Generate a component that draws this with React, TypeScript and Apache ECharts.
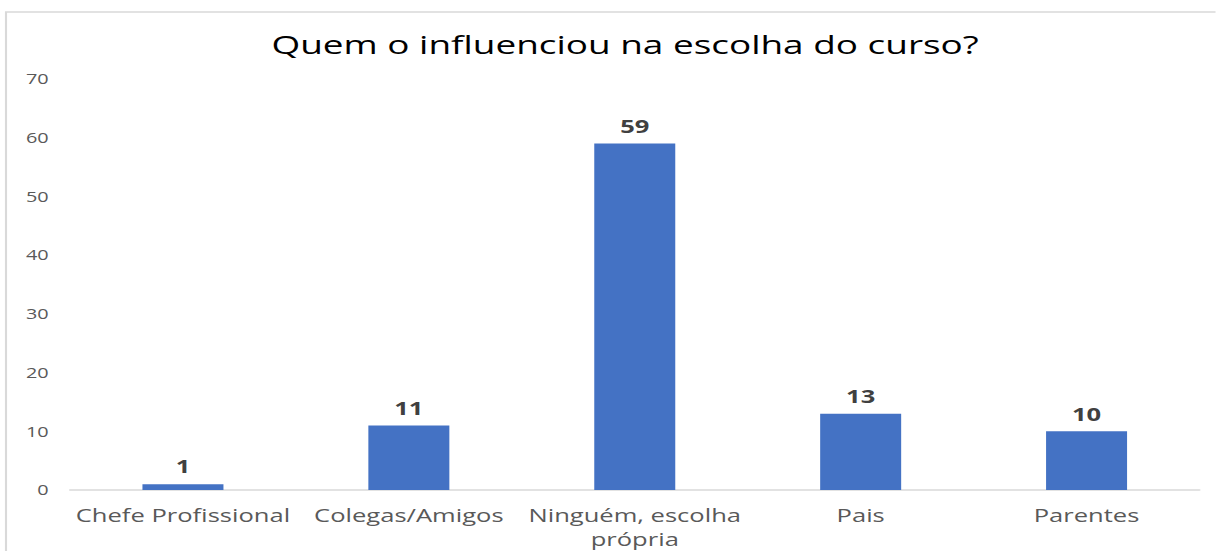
import React, { useEffect, useRef } from "react";
import * as echarts from "echarts";

const categories = ["Chefe Profissional", "Colegas/Amigos", "Ninguém, escolha\nprópria", "Pais", "Parentes"];
const values = [1, 11, 59, 13, 10];
const yTicks = { min: 0, max: 70, interval: 10 };
const titleText = "Quem o influenciou na escolha do curso?";

// the reference is a horizontally stretched picture; draw narrower and stretch the whole chart
const STRETCH = 1.42;
const W = 1216 / STRETCH;
const H = 551;

export default function App() {
  const ref = useRef<HTMLDivElement>(null);
  useEffect(() => {
    document.body.style.margin = "0";
    document.body.style.overflow = "hidden";
    const chart = echarts.init(ref.current!, null, { renderer: "svg" });
    chart.setOption({
      animation: false,
      backgroundColor: "#ffffff",
      title: {
        text: titleText,
        left: 618 / STRETCH,
        textAlign: "center",
        top: 26,
        textStyle: { fontFamily: "Open Sans", fontSize: 26, fontWeight: "normal", color: "#000000" },
      },
      graphic: [
        {
          type: "rect",
          shape: { x: 6 / STRETCH, y: 12, width: 1000, height: 700 },
          style: { fill: "none", stroke: "#d9d9d9", lineWidth: 1.5 },
          silent: true,
        },
      ],
      grid: { left: 70 / STRETCH, right: 16 / STRETCH, top: 79, bottom: 61 },
      xAxis: {
        type: "category",
        data: categories,
        axisLine: { lineStyle: { color: "#d9d9d9", width: 1.5 } },
        axisTick: { show: false },
        axisLabel: {
          fontFamily: "Open Sans",
          fontSize: 18,
          color: "#595959",
          margin: 13,
          lineHeight: 24,
          interval: 0,
        },
      },
      yAxis: {
        type: "value",
        min: yTicks.min,
        max: yTicks.max,
        interval: yTicks.interval,
        axisLine: { show: false },
        axisTick: { show: false },
        splitLine: { show: false },
        axisLabel: { fontFamily: "Open Sans", fontSize: 14, color: "#595959", margin: 15 },
      },
      series: [
        {
          type: "bar",
          data: values,
          barWidth: 81 / STRETCH,
          itemStyle: { color: "#4472c4" },
          label: {
            show: true,
            position: "top",
            distance: 9,
            fontFamily: "Open Sans",
            fontSize: 18,
            fontWeight: "bold",
            color: "#404040",
          },
        },
      ],
    });
    return () => chart.dispose();
  }, []);
  return (
    <div
      ref={ref}
      style={{ width: W, height: H, transform: `scaleX(${STRETCH})`, transformOrigin: "0 0" }}
    />
  );
}
